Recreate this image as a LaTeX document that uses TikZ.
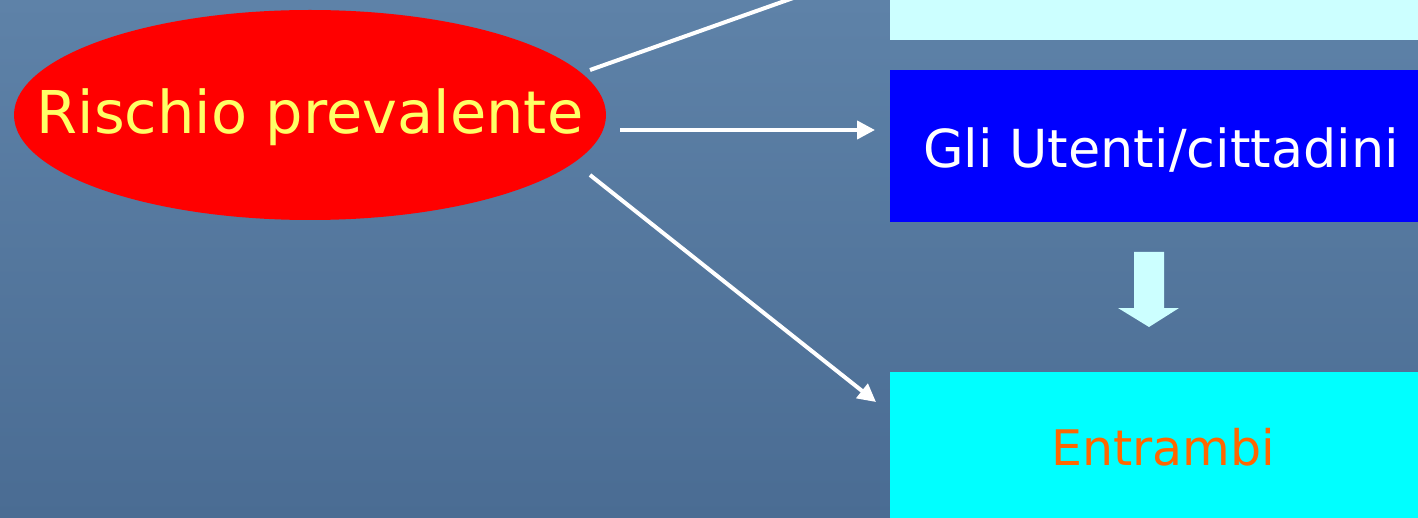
\documentclass[tikz,border=0pt]{standalone}
\usepackage{fontspec}
\setmainfont{DejaVu Sans}
\usetikzlibrary{arrows.meta,shapes.geometric}
\definecolor{bgtop}{HTML}{5E82A8}
\definecolor{bgbot}{HTML}{4A6C93}
\definecolor{palecyan}{HTML}{CCFFFF}
\definecolor{purecyan}{HTML}{00FFFF}
\definecolor{pureblue}{HTML}{0000FF}
\definecolor{purered}{HTML}{FF0000}
\definecolor{txtyellow}{HTML}{FFFF66}
\definecolor{txtorange}{HTML}{FF6600}
\tikzset{
  box/.style={rectangle, inner sep=0pt, anchor=north west},
  link/.style={draw=white, line width=2pt},
  linkarrow/.style={link, -{Triangle[length=9pt,width=9pt]}},
}
\begin{document}
\begin{tikzpicture}[x=0.5pt,y=-0.5pt]
  % page area and background
  \useasboundingbox (0,0) rectangle (1418,518);
  \clip (0,0) rectangle (1418,518);
  \shade[top color=bgtop, bottom color=bgbot] (0,0) rectangle (1418,518);

  % boxes on the right
  \node[box, fill=palecyan, minimum width=264pt, minimum height=20pt] (top) at (890,0) {};
  \node[box, fill=pureblue, minimum width=264pt, minimum height=76pt] (users) at (890,70) {};
  \node[font=\fontsize{26.2}{30}\selectfont, text=white] (userst) at (1161,150) {Gli Utenti/cittadini};
  \node[box, fill=purecyan, minimum width=264pt, minimum height=74pt] (both) at (890,372) {};
  \node[font=\fontsize{24.5}{30}\selectfont, text=txtorange] (botht) at (1163,447) {Entrambi};

  % block arrow between the blue and cyan boxes
  \fill[palecyan] (1134,252) -- (1164,252) -- (1164,308) -- (1179,308) -- (1149,327)
    -- (1118,308) -- (1134,308) -- cycle;

  % red ellipse
  \node[ellipse, fill=purered, minimum width=296pt, minimum height=105pt, inner sep=0pt] (risk) at (310,115) {};
  \node[font=\fontsize{29.5}{34}\selectfont, text=txtyellow] (riskt) at (310,117) {Rischio prevalente};

  % connectors
  \coordinate (s1) at (590,70);
  \coordinate (e1) at (875,-31);
  \coordinate (s2) at (620,130);
  \coordinate (s3) at (590,175);
  \coordinate (e3) at (876,402);
  \draw[linkarrow] (s1) -- (e1);
  \draw[linkarrow, shorten >=7.5pt] (s2) -- (users.west |- s2);
  \draw[linkarrow] (s3) -- (e3);
\end{tikzpicture}
\end{document}
